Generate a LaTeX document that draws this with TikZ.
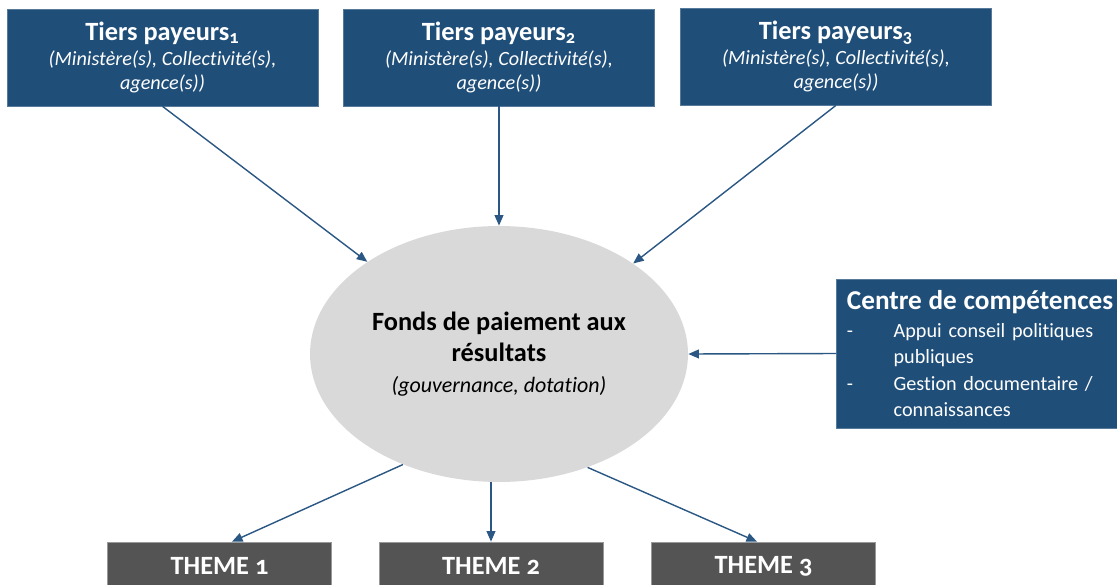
\documentclass[tikz,border=0pt]{standalone}
\usepackage{fontspec}
\setmainfont{Carlito}[Numbers=OldStyle,Ligatures=NoCommon]
\usetikzlibrary{arrows.meta,shapes.geometric}
\definecolor{payblue}{HTML}{1F4E79}
\definecolor{linkblue}{HTML}{2A5783}
\definecolor{themegrey}{HTML}{545454}
\definecolor{fondsgrey}{HTML}{D9D9D9}
\begin{document}
\begin{tikzpicture}[x=0.02cm,y=-0.02cm,
        payeur/.style={draw=payblue!75!white,rectangle,fill=payblue,text=white,minimum width=6.22cm,minimum height=1.94cm,inner sep=0pt,align=center,font=\fontsize{11.5}{14.2}\selectfont},
        centre/.style={draw=payblue!75!white,rectangle,fill=payblue,text=white,text width=6.1cm,minimum height=2.98cm,inner xsep=6pt,inner ysep=0pt,align=left,font=\fontsize{11.5}{15}\selectfont},
        fonds/.style={ellipse,fill=fondsgrey,minimum width=7.56cm,minimum height=5.12cm,inner sep=0pt,align=center,font=\fontsize{15}{17.6}\selectfont},
        theme/.style={draw=gray!80,rectangle,fill=themegrey,text=white,minimum width=4.48cm,minimum height=0.96cm,inner sep=0pt,font=\bfseries\fontsize{15}{18}\selectfont},
        lien/.style={draw=linkblue,line width=0.8pt,-{Triangle[length=6pt,width=5pt]}}
      ]
      \clip (0,0) rectangle (1117,585);
      \node[payeur] (tp1) at (162.5,57.5) {{\bfseries\fontsize{15}{18}\selectfont Tiers payeurs\textsubscript{1}}\\ \textit{(Ministère(s), Collectivité(s),}\\ \textit{agence(s))}};
      \node[payeur] (tp2) at (499,57.5) {{\bfseries\fontsize{15}{18}\selectfont Tiers payeurs\textsubscript{2}}\\ \textit{(Ministère(s), Collectivité(s),}\\ \textit{agence(s))}};
      \node[payeur] (tp3) at (836,56.5) {{\bfseries\fontsize{15}{18}\selectfont Tiers payeurs\textsubscript{3}}\\ \textit{(Ministère(s), Collectivité(s),}\\ \textit{agence(s))}};
      \node[fonds] (fonds) at (499,354) {\textbf{Fonds de paiement aux}\\ \textbf{résultats}\\ {\itshape\fontsize{12.5}{15}\selectfont (gouvernance, dotation)}};
      \node[centre,anchor=west] (cc) at (836,353.5) {{\bfseries\fontsize{15.5}{18}\selectfont Centre de compétences}\\[1pt] \makebox[26.6pt][l]{-}Appui conseil politiques\\ \hspace*{26.6pt}publiques\\ \makebox[26.6pt][l]{-}Gestion documentaire /\\ \hspace*{26.6pt}connaissances};
      \node[theme] (th1) at (219.5,566) {THEME 1};
      \node[theme] (th2) at (491,566) {THEME 2};
      \node[theme] (th3) at (763.5,566) {THEME 3};
      \draw[lien] (tp1.south) -- (fonds.145.5);
      \draw[lien] (tp2.south) -- (fonds.north);
      \draw[lien] (tp3.south) -- (fonds.34.5);
      \draw[lien] (cc.west) -- (fonds.east);
      \draw[lien] (fonds.229) -- ([xshift=0.25cm]th1.north);
      \draw[lien] (fonds.south -| th2.north) -- (th2.north);
      \draw[lien] (fonds.308.5) -- ([xshift=-0.13cm]th3.north);
    \end{tikzpicture}
\end{document}
